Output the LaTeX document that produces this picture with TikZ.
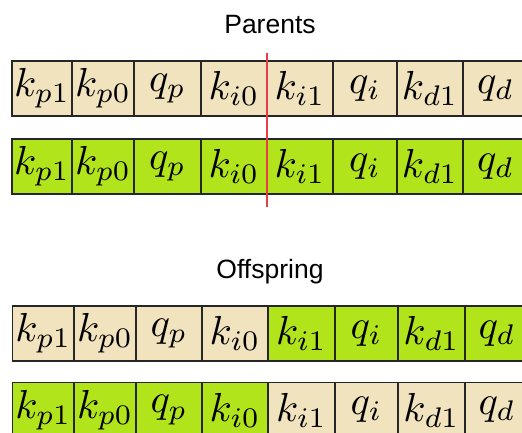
\documentclass[tikz,border=0pt]{standalone}
\usepackage{graphicx}
\usepackage{fontspec}
\newfontfamily\labelfont{Liberation Sans}
\definecolor{tanc}{RGB}{240,227,190}
\definecolor{limec}{RGB}{178,228,28}
\definecolor{cutred}{RGB}{232,62,72}
\newcommand{\cellmath}[1]{\scalebox{4.05}{$#1$}}
\begin{document}
\begin{tikzpicture}[x=1pt,y=-1pt,
  cell/.style={draw=black!85, line width=1.5pt, minimum height=55pt, inner sep=0pt, outer sep=0pt},
  tancell/.style={cell, fill=tanc},
  limecell/.style={cell, fill=limec},
  title/.style={font=\labelfont\fontsize{26.5}{30}\selectfont, inner sep=0pt}]
\useasboundingbox (0,0) rectangle (522,432);
\clip (0,0) rectangle (522,432);
\fill[white] (0,0) rectangle (522,432);
% titles
\node[title] (parents) at (270,25) {Parents};
\node[title] (offspring) at (270,272) {Offspring};
% parent rows
\foreach \l/\r/\t [count=\i] in {12/72/{k_{p1}},72/134/{k_{p0}},134/201/{q_p},201/267/{k_{i0}},267/333/{k_{i1}},333/397/{q_i},397/463/{k_{d1}},463/528/{q_d}}{
  \node[tancell, minimum width={\r-\l}] (a\i) at ({(\l+\r)/2},88.5) {\cellmath{\t}};
  \node[limecell, minimum width={\r-\l}] (b\i) at ({(\l+\r)/2},166.5) {\cellmath{\t}};
}
% offspring rows
\foreach \l/\r/\t/\cf/\cs [count=\i] in {12.5/74/{k_{p1}}/tancell/limecell,74/136/{k_{p0}}/tancell/limecell,136/202/{q_p}/tancell/limecell,202/268/{k_{i0}}/tancell/limecell,268/335/{k_{i1}}/limecell/tancell,335/398/{q_i}/limecell/tancell,398/465/{k_{d1}}/limecell/tancell,465/529/{q_d}/limecell/tancell}{
  \node[\cf, minimum width={\r-\l}] (c\i) at ({(\l+\r)/2},333.5) {\cellmath{\t}};
  \node[\cs, minimum width={\r-\l}] (d\i) at ({(\l+\r)/2},410) {\cellmath{\t}};
}
% crossover cut
\coordinate (cuttop) at (266.7,53);
\coordinate (cutbot) at (266.7,207);
\draw[cutred, line width=1.8pt] (cuttop) -- (cutbot);
\end{tikzpicture}
\end{document}
